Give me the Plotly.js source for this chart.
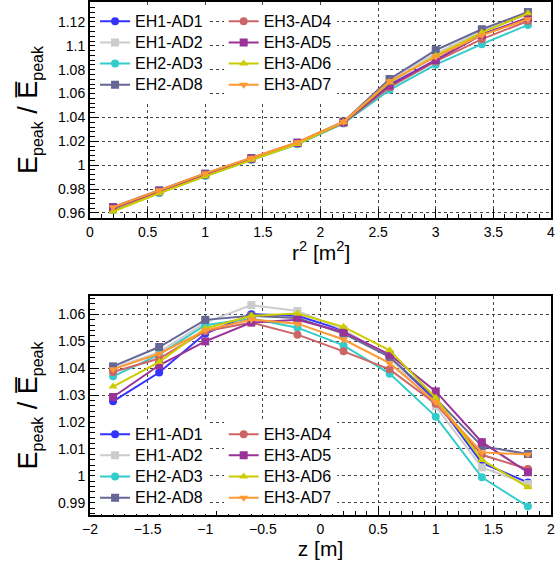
<!DOCTYPE html>
<html>
<head>
<meta charset="utf-8">
<script src="https://cdn.plot.ly/plotly-3.0.1.min.js"></script>
<style>html,body{margin:0;padding:0;background:#fff;}#chart{width:556px;height:568px;}</style>
</head>
<body>
<div id="chart"></div>
<script>
// ---------- data ----------
const detectors = ["EH1-AD1", "EH1-AD2", "EH2-AD3", "EH2-AD8", "EH3-AD4", "EH3-AD5", "EH3-AD6", "EH3-AD7"];

// top panel: x = r^2 [m^2]
const r2 = [0.2, 0.6, 1.0, 1.4, 1.8, 2.2, 2.6, 3.0, 3.4, 3.8];
const rAD1 = [0.9625, 0.9770, 0.9915, 1.0050, 1.0180, 1.0355, 1.0675, 1.0881, 1.1097, 1.1231];
const rAD2 = [0.9635, 0.9780, 0.9925, 1.0058, 1.0188, 1.0362, 1.0717, 1.0936, 1.1120, 1.1264];
const rAD3 = [0.9625, 0.9768, 0.9910, 1.0043, 1.0175, 1.0350, 1.0631, 1.0842, 1.1014, 1.1175];
const rAD8 = [0.9650, 0.9790, 0.9930, 1.0060, 1.0190, 1.0365, 1.0722, 1.0964, 1.1139, 1.1283];
const rAD4 = [0.9635, 0.9778, 0.9920, 1.0053, 1.0183, 1.0355, 1.0653, 1.0869, 1.1056, 1.1208];
const rAD5 = [0.9645, 0.9782, 0.9922, 1.0055, 1.0185, 1.0358, 1.0667, 1.0880, 1.1092, 1.1236];
const rAD6 = [0.9612, 0.9765, 0.9908, 1.0045, 1.0178, 1.0360, 1.0694, 1.0917, 1.1111, 1.1272];
const rAD7 = [0.9648, 0.9790, 0.9932, 1.0062, 1.0192, 1.0365, 1.0703, 1.0908, 1.1089, 1.1222];

// bottom panel: x = z [m]
const zPos = [-1.8, -1.4, -1.0, -0.6, -0.2, 0.2, 0.6, 1.0, 1.4, 1.8];
const zAD1 = [1.0277, 1.0384, 1.0529, 1.0601, 1.0595, 1.0541, 1.0443, 1.0280, 1.0048, 0.9975];
const zAD2 = [1.0400, 1.0460, 1.0570, 1.0635, 1.0613, 1.0544, 1.0440, 1.0258, 1.0031, 0.9969];
const zAD3 = [1.0370, 1.0451, 1.0560, 1.0585, 1.0551, 1.0485, 1.0380, 1.0220, 0.9994, 0.9886];
const zAD8 = [1.0407, 1.0479, 1.0580, 1.0595, 1.0587, 1.0529, 1.0442, 1.0287, 1.0110, 1.0081];
const zAD4 = [1.0386, 1.0436, 1.0538, 1.0570, 1.0525, 1.0463, 1.0396, 1.0268, 1.0078, 1.0025];
const zAD5 = [1.0293, 1.0411, 1.0500, 1.0570, 1.0580, 1.0535, 1.0451, 1.0314, 1.0125, 1.0013];
const zAD6 = [1.0332, 1.0423, 1.0548, 1.0595, 1.0604, 1.0554, 1.0467, 1.0290, 1.0059, 0.9957];
const zAD7 = [1.0396, 1.0454, 1.0541, 1.0581, 1.0566, 1.0507, 1.0419, 1.0274, 1.0087, 1.0079];

const rSeries = [rAD1, rAD2, rAD3, rAD8, rAD4, rAD5, rAD6, rAD7];
const zSeries = [zAD1, zAD2, zAD3, zAD8, zAD4, zAD5, zAD6, zAD7];

// ---------- styles ----------
const colors = ["#3333ff", "#cccccc", "#33cccc", "#666699", "#cc6666", "#993399", "#cccc00", "#ff9933"];
const symbols = ["circle", "square", "circle", "square", "circle", "square", "triangle-up", "triangle-down"];

function legendLabel(name) {
  return '<span style="font-size:16px">' + name + '</span>';
}

const traces = [];
detectors.forEach((name, i) => {
  traces.push({
    type: "scatter", mode: "lines+markers", name: legendLabel(name),
    x: r2, y: rSeries[i], xaxis: "x", yaxis: "y",
    legend: i < 4 ? "legend" : "legend2",
    line: {color: colors[i], width: 2},
    marker: {color: colors[i], symbol: symbols[i], size: 8}
  });
});
detectors.forEach((name, i) => {
  traces.push({
    type: "scatter", mode: "lines+markers", name: legendLabel(name),
    x: zPos, y: zSeries[i], xaxis: "x2", yaxis: "y2",
    legend: i < 4 ? "legend3" : "legend4",
    line: {color: colors[i], width: 2},
    marker: {color: colors[i], symbol: symbols[i], size: 8}
  });
});

const FONT = "Liberation Sans, Arial, Helvetica, sans-serif";
const tickFont = {family: FONT, size: 14, color: "#000"};
const titleFont = {family: FONT, size: 21, color: "#000"};
const yTitleFont = {family: FONT, size: 27, color: "#000"};

function axisBase(extra) {
  return Object.assign({
    showline: true, linecolor: "#000", linewidth: 2, mirror: true,
    ticks: "inside", ticklen: 9, tickwidth: 1, tickcolor: "#000",
    showgrid: true, gridcolor: "#444", griddash: "dot", gridwidth: 1,
    zeroline: false, tickfont: tickFont
  }, extra);
}

const legendBase = {
  bgcolor: "#ffffff", borderwidth: 0, xanchor: "left", yanchor: "top",
  font: {family: FONT, size: 14, color: "#000"}, tracegroupgap: 0
};

const sub = '<sub><span style="font-size:16px">peak</span></sub>';
const ytitle = "E" + sub + " / E\u0305" + sub;

const layout = {
  width: 556, height: 568,
  margin: {l: 90, r: 5, t: 2, b: 53},
  paper_bgcolor: "#fff", plot_bgcolor: "#fff",
  font: {family: FONT, color: "#000"},
  xaxis: axisBase({
    domain: [0, 1], anchor: "y", range: [0, 4], dtick: 0.5, tick0: 0,
    minor: {dtick: 0.1, ticks: "inside", ticklen: 4, tickcolor: "#000", showgrid: false}
  }),
  yaxis: axisBase({
    domain: [0.579, 1], anchor: "x", range: [0.9558, 1.1367], dtick: 0.02, tick0: 0.96,
    minor: {dtick: 0.004, ticks: "inside", ticklen: 5, tickcolor: "#000", showgrid: false},
    title: {text: ytitle, font: yTitleFont, standoff: 12}
  }),
  xaxis2: axisBase({
    domain: [0, 1], anchor: "y2", range: [-2, 2], dtick: 0.5, tick0: 0,
    minor: {dtick: 0.1, ticks: "inside", ticklen: 4, tickcolor: "#000", showgrid: false},
    title: {text: "z [m]", font: titleFont, standoff: 6}
  }),
  yaxis2: axisBase({
    domain: [0, 0.427], anchor: "x2", range: [0.9854, 1.0669], dtick: 0.01, tick0: 1,
    minor: {dtick: 0.002, ticks: "inside", ticklen: 5, tickcolor: "#000", showgrid: false},
    title: {text: ytitle, font: yTitleFont, standoff: 12}
  }),
  annotations: [{
    text: "r<sup>2</sup> [m<sup>2</sup>]", font: titleFont, showarrow: false, borderpad: 0,
    xref: "paper", yref: "paper", x: 0.5, y: 0.514, xanchor: "center", yanchor: "middle"
  }],
  legend: Object.assign({}, legendBase, {x: 0.011, y: 0.993}),
  legend2: Object.assign({}, legendBase, {x: 0.29, y: 0.993}),
  legend3: Object.assign({}, legendBase, {x: 0.011, y: 0.188}),
  legend4: Object.assign({}, legendBase, {x: 0.29, y: 0.188}),
  showlegend: true
};

Plotly.newPlot("chart", traces, layout, {staticPlot: true, displayModeBar: false});
</script>
</body>
</html>
